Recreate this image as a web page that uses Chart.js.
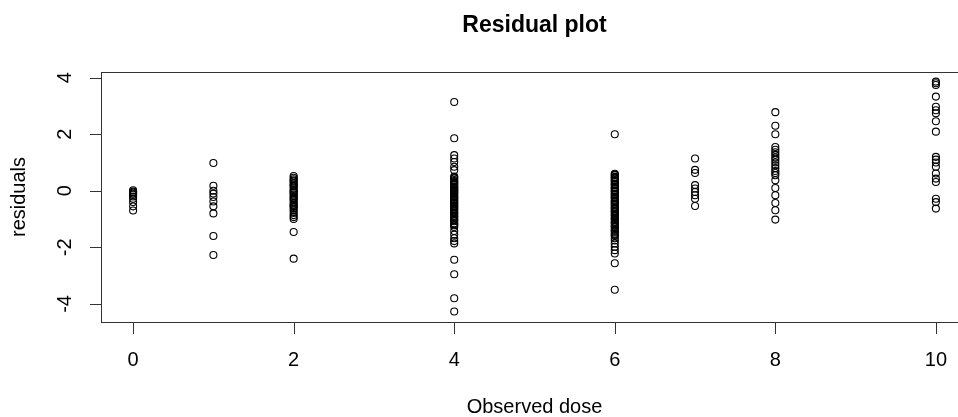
<!DOCTYPE html>
<html>
<head>
<meta charset="utf-8">
<title>Residual plot</title>
<script src="https://cdn.jsdelivr.net/npm/chart.js@4/dist/chart.umd.min.js"></script>
<style>
  html, body { margin: 0; padding: 0; background: #fff; overflow: hidden; }
  #wrap { width: 1000px; height: 417px; }
</style>
</head>
<body>
<div id="wrap"><canvas id="residualChart" width="1000" height="417"></canvas></div>
<script>
// residuals, one list per observed dose
const doses = [0, 1, 2, 4, 6, 7, 8, 10];
const res0 = [0.02, -0.03, -0.06, -0.1, -0.14, -0.2, -0.28, -0.4, -0.55, -0.7];
const res1 = [0.98, 0.18, 0.0, -0.1, -0.22, -0.38, -0.55, -0.8, -1.6, -2.27];
const res2 = [0.52, 0.46, 0.41, 0.36, 0.33, 0.27, 0.22, 0.18, 0.15, 0.08, 0.03, -0.02, -0.05, -0.08,
  -0.13, -0.19, -0.24, -0.28, -0.31, -0.38, -0.44, -0.5, -0.53, -0.57, -0.63, -0.7, -0.78, -0.86,
  -0.93, -1.0, -1.46, -2.4];
const res4 = [3.14, 1.86, 1.26, 1.14, 1.02, 0.85, 0.73, 0.5, 0.47, 0.44, 0.38, 0.34, 0.31, 0.27, 0.23,
  0.2, 0.14, 0.12, 0.1, 0.05, 0.02, 0.0, -0.04, -0.07, -0.1, -0.15, -0.19, -0.22, -0.25, -0.3, -0.33,
  -0.36, -0.41, -0.44, -0.47, -0.52, -0.55, -0.58, -0.63, -0.66, -0.7, -0.76, -0.79, -0.82, -0.88,
  -0.92, -0.95, -1.01, -1.04, -1.08, -1.15, -1.18, -1.22, -1.28, -1.42, -1.55, -1.68, -1.78, -1.86,
  -2.44, -2.95, -3.8, -4.27];
const res6 = [2.0, 0.6, 0.57, 0.55, 0.49, 0.46, 0.43, 0.38, 0.35, 0.31, 0.25, 0.22, 0.2, 0.13, 0.1,
  0.08, 0.02, -0.01, -0.04, -0.1, -0.13, -0.16, -0.21, -0.24, -0.27, -0.34, -0.37, -0.4, -0.45, -0.48,
  -0.52, -0.58, -0.61, -0.64, -0.7, -0.73, -0.77, -0.83, -0.86, -0.9, -0.96, -0.99, -1.03, -1.1,
  -1.13, -1.17, -1.24, -1.27, -1.3, -1.38, -1.41, -1.45, -1.52, -1.56, -1.6, -1.68, -1.76, -1.86,
  -1.98, -2.1, -2.22, -2.56, -3.5];
const res7 = [1.14, 0.74, 0.63, 0.2, 0.08, -0.04, -0.16, -0.28, -0.54];
const res8 = [2.78, 2.3, 2.0, 1.55, 1.45, 1.36, 1.27, 1.18, 1.1, 1.0, 0.9, 0.8, 0.7, 0.63, 0.55,
  0.37, 0.1, -0.16, -0.43, -0.69, -1.02];
const res10 = [3.86, 3.8, 3.74, 3.33, 2.97, 2.85, 2.74, 2.46, 2.09, 1.2, 1.1, 1.0, 0.85, 0.61, 0.43,
  0.31, -0.28, -0.4, -0.63];

const xTicks = [0, 2, 4, 6, 8, 10];
const yTicks = [-4, -2, 0, 2, 4];

const residuals = [res0, res1, res2, res4, res6, res7, res8, res10];
const points = [];
doses.forEach((d, i) => {
  residuals[i].forEach(r => points.push({ x: d, y: r }));
});

// R style frame, axes and labels
const rAxes = {
  id: 'rAxes',
  afterDraw(chart) {
    const ctx = chart.ctx;
    const a = chart.chartArea;
    const xs = chart.scales.x;
    const ys = chart.scales.y;
    ctx.save();
    ctx.strokeStyle = '#333';
    ctx.lineWidth = 1;
    ctx.strokeRect(a.left + 0.5, a.top + 0.5, a.right - a.left, a.bottom - a.top);

    ctx.fillStyle = '#000';
    ctx.font = '20px "Liberation Sans", Arial, sans-serif';

    // x axis
    ctx.beginPath();
    xTicks.forEach(t => {
      const px = Math.round(xs.getPixelForValue(t)) + 0.5;
      ctx.moveTo(px, a.bottom);
      ctx.lineTo(px, a.bottom + 12);
    });
    ctx.stroke();
    ctx.textAlign = 'center';
    ctx.textBaseline = 'alphabetic';
    xTicks.forEach(t => ctx.fillText(String(t), xs.getPixelForValue(t), 366));

    // y axis
    ctx.beginPath();
    yTicks.forEach(t => {
      const py = Math.round(ys.getPixelForValue(t)) + 0.5;
      ctx.moveTo(a.left, py);
      ctx.lineTo(a.left - 11, py);
    });
    ctx.stroke();
    yTicks.forEach(t => {
      ctx.save();
      ctx.translate(65, ys.getPixelForValue(t));
      ctx.rotate(-Math.PI / 2);
      ctx.textAlign = 'center';
      ctx.textBaseline = 'middle';
      ctx.fillText(String(t), 0, 0);
      ctx.restore();
    });

    // axis titles
    const cx = (a.left + a.right) / 2;
    ctx.textAlign = 'center';
    ctx.textBaseline = 'alphabetic';
    ctx.fillText('Observed dose', cx, 413);
    ctx.save();
    ctx.translate(19, (a.top + a.bottom) / 2);
    ctx.rotate(-Math.PI / 2);
    ctx.textBaseline = 'middle';
    ctx.fillText('residuals', 0, 0);
    ctx.restore();

    ctx.font = 'bold 23px "Liberation Sans", Arial, sans-serif';
    ctx.fillText('Residual plot', cx, 32);
    ctx.restore();
  }
};

const ctx = document.getElementById('residualChart').getContext('2d');
const residualChart = new Chart(ctx, {
  type: 'scatter',
  data: {
    datasets: [{
      label: 'residuals',
      data: points,
      pointStyle: 'circle',
      pointRadius: 3.5,
      pointHoverRadius: 3.5,
      pointBorderWidth: 1.1,
      borderColor: '#000',
      backgroundColor: 'rgba(0,0,0,0)'
    }]
  },
  options: {
    responsive: false,
    animation: false,
    devicePixelRatio: 1,
    layout: {
      padding: { left: 101, right: 32, top: 72, bottom: 95 }
    },
    scales: {
      x: { type: 'linear', min: -0.4, max: 10.4, display: false },
      y: { type: 'linear', min: -4.64, max: 4.2, display: false }
    },
    plugins: {
      legend: { display: false },
      tooltip: { enabled: false },
      title: { display: false }
    }
  },
  plugins: [rAxes]
});
</script>
</body>
</html>
